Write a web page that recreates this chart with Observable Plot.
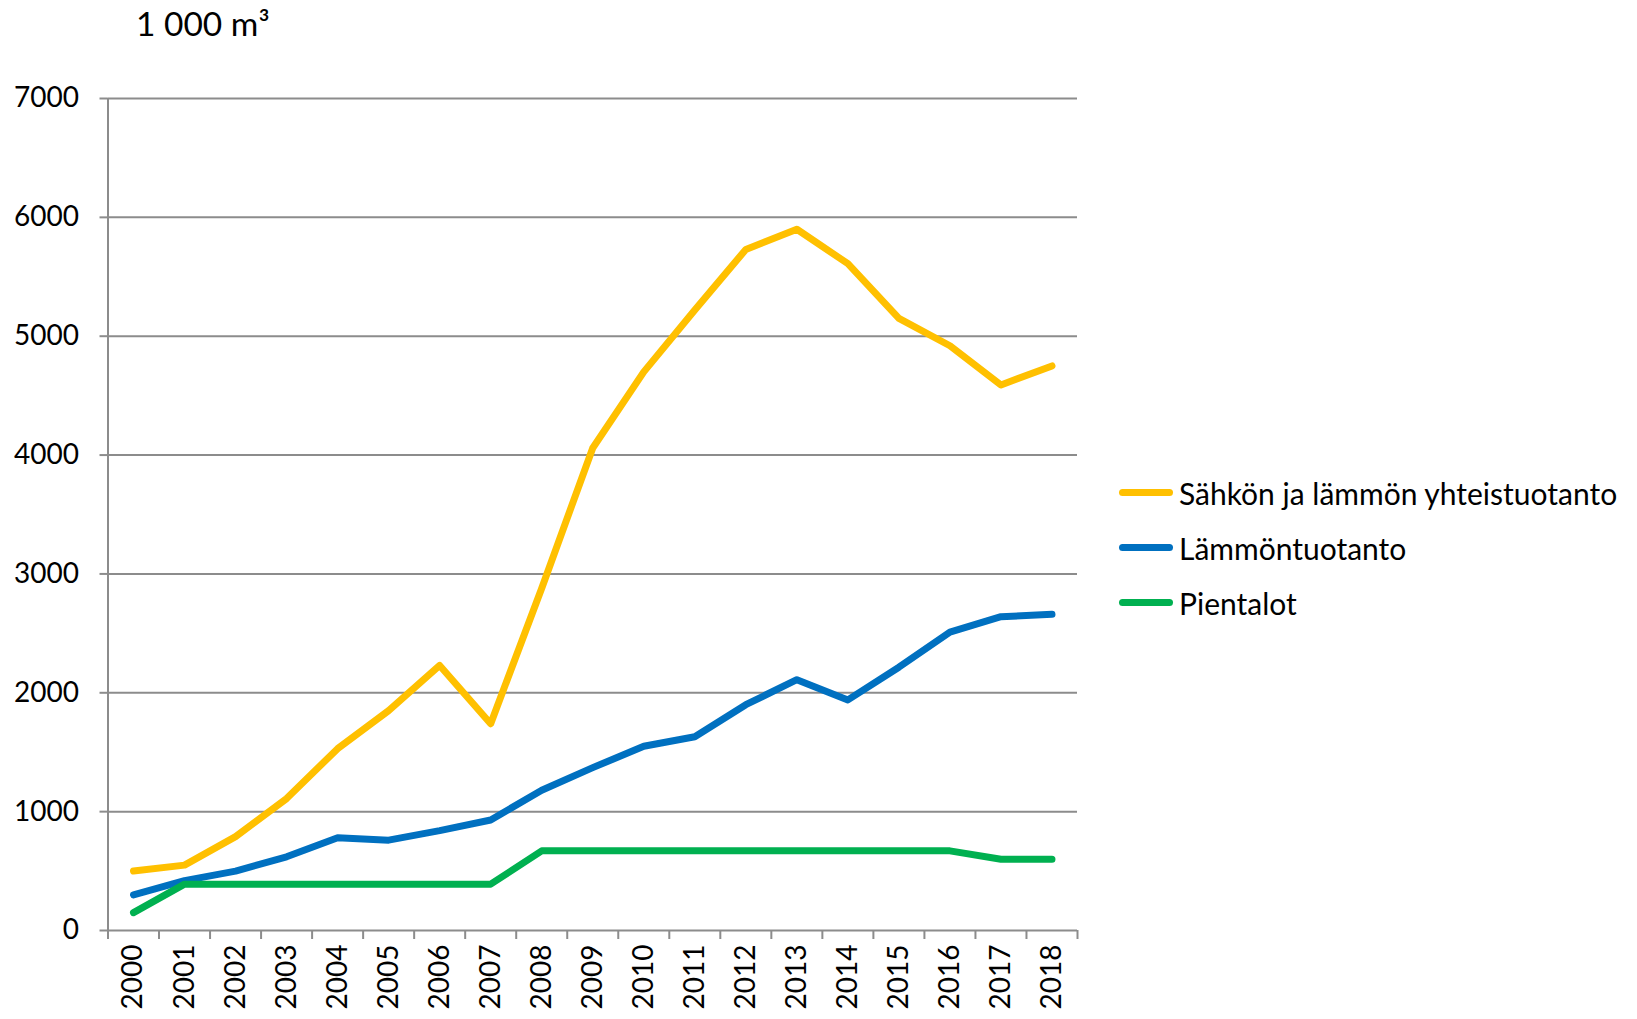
<!DOCTYPE html>
<html>
<head>
<meta charset="utf-8">
<script src="https://cdn.jsdelivr.net/npm/d3@7"></script>
<script src="https://cdn.jsdelivr.net/npm/@observablehq/plot@0.6"></script>
<style>
  html, body { margin: 0; padding: 0; background: #fff; }
  #wrap { position: relative; width: 1637px; height: 1019px; font-family: Lato, "Open Sans", sans-serif; color: #000; }
  #title { position: absolute; left: 136px; top: 3px; font-size: 33.5px; line-height: 40px; }
  #legend { position: absolute; left: 1119px; top: 465px; font-size: 30px; }
  .item { display: flex; align-items: center; height: 55px; }
  .swatch { width: 54px; height: 7px; border-radius: 4px; margin-right: 6px; }
</style>
</head>
<body>
<div id="wrap">
  <div id="title">1 000 m³</div>
  <div id="chart"></div>
  <div id="legend"></div>
</div>
<script>
const years = [2000, 2001, 2002, 2003, 2004, 2005, 2006, 2007, 2008, 2009, 2010, 2011, 2012, 2013, 2014, 2015, 2016, 2017, 2018];
const seriesNames = ["Sähkön ja lämmön yhteistuotanto", "Lämmöntuotanto", "Pientalot"];
const seriesColors = ["#FFC000", "#0070C0", "#00B050"];
const chp = [500, 550, 790, 1110, 1530, 1850, 2230, 1740, 2880, 4060, 4700, 5220, 5730, 5900, 5610, 5150, 4920, 4590, 4750];
const heat = [300, 420, 500, 620, 780, 760, 840, 930, 1180, 1370, 1550, 1630, 1900, 2110, 1940, 2215, 2510, 2640, 2660];
const houses = [150, 390, 390, 390, 390, 390, 390, 390, 670, 670, 670, 670, 670, 670, 670, 670, 670, 600, 600];
const yTicks = [0, 1000, 2000, 3000, 4000, 5000, 6000, 7000];

const seriesValues = [chp, heat, houses];
const data = [];
seriesNames.forEach((name, i) => {
  years.forEach((yr, j) => data.push({series: name, year: yr, value: seriesValues[i][j]}));
});
const boundaries = years.map(y => y - 0.5).concat([years[years.length - 1] + 0.5]);

const chart = Plot.plot({
  width: 1637,
  height: 1019,
  marginLeft: 107.5,
  marginRight: 560,
  marginTop: 98,
  marginBottom: 89,
  style: {fontFamily: "Lato, 'Open Sans', sans-serif", fontSize: "28px", color: "#000", background: "transparent"},
  x: {type: "linear", domain: [boundaries[0], boundaries[boundaries.length - 1]], label: null},
  y: {domain: [0, 7000], label: null},
  color: {domain: seriesNames, range: seriesColors},
  marks: [
    Plot.ruleY(yTicks, {stroke: "#8c8c8c", strokeWidth: 2}),
    Plot.ruleX([boundaries[0]], {stroke: "#8c8c8c", strokeWidth: 2}),
    Plot.axisY({ticks: yTicks, tickSize: 8, tickPadding: 21, tickFormat: d => String(d), stroke: "#8c8c8c", strokeWidth: 2, fill: "#000", label: null}),
    Plot.axisX({ticks: boundaries, tickSize: 9, tickFormat: () => "", stroke: "#8c8c8c", strokeWidth: 2, label: null}),
    Plot.axisX({ticks: years, tickSize: 0, tickPadding: 14, tickRotate: -90, tickFormat: d => String(d), fill: "#000", label: null}),
    Plot.line(data, {x: "year", y: "value", z: "series", stroke: "series", strokeWidth: 7, strokeLinejoin: "round", strokeLinecap: "round"})
  ]
});
document.getElementById("chart").appendChild(chart);

const legend = document.getElementById("legend");
seriesNames.forEach((name, i) => {
  const item = document.createElement("div");
  item.className = "item";
  const sw = document.createElement("div");
  sw.className = "swatch";
  sw.style.background = seriesColors[i];
  const label = document.createElement("span");
  label.textContent = name;
  item.appendChild(sw);
  item.appendChild(label);
  legend.appendChild(item);
});
</script>
</body>
</html>
